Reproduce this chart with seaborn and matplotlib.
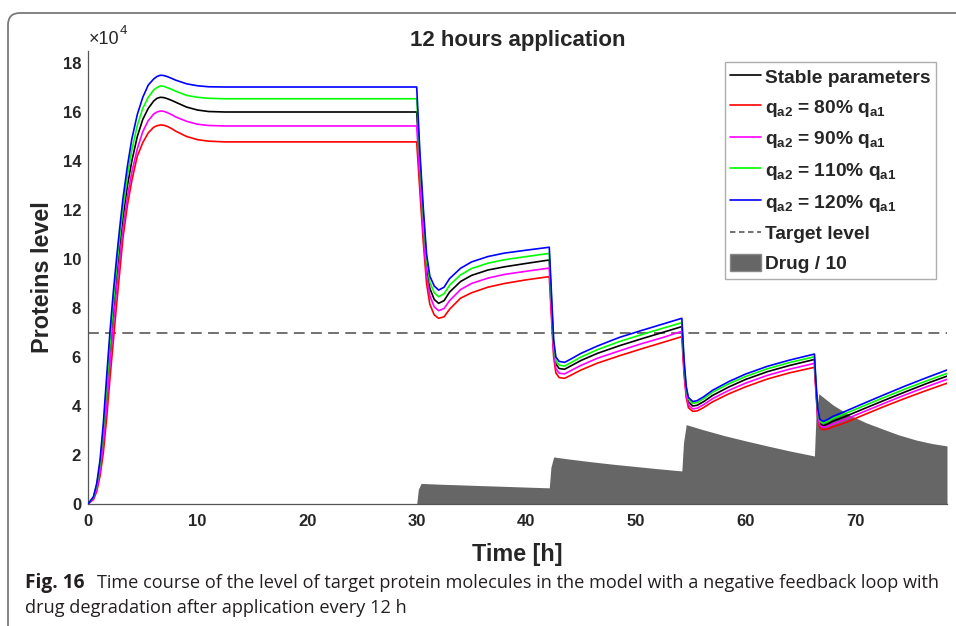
import matplotlib
matplotlib.use("Agg")
import matplotlib.pyplot as plt
import numpy as np
import pandas as pd
import seaborn as sns
from matplotlib.lines import Line2D
from matplotlib.patches import FancyBboxPatch, Patch
from matplotlib.transforms import IdentityTransform

# time grid [h] shared by the five protein curves
time_h = [0, 0.5, 0.8, 1.1, 1.4, 1.7, 2.0, 2.3, 2.6, 2.9, 3.2, 3.6, 4.0, 4.5, 5.0, 5.5, 6.0, 6.3, 6.6, 6.9,
          7.2, 7.6, 8.0, 9.0, 10.0, 11.0, 12.5, 14.0, 30.0,
          30.3, 30.6, 30.9, 31.2, 31.6, 32.0, 32.5, 33.0, 34.0, 35.0, 36.5, 38.0, 40.0, 42.1,
          42.3, 42.5, 42.7, 43.0, 43.5, 44.0, 45.0, 46.5, 48.5, 50.5, 52.5, 54.2,
          54.4, 54.6, 54.8, 55.2, 55.6, 56.2, 57.0, 58.5, 60.0, 62.0, 64.0, 66.3,
          66.45, 66.6, 66.8, 67.1, 67.5, 68.0, 69.0, 70.5, 72.5, 74.5, 76.5, 78.4]

# protein level in units of 1e4
stable = [0, 0.25, 0.7, 1.5, 2.8, 4.4, 6.1, 7.7, 9.2, 10.5, 11.7, 13.0, 14.0, 15.0, 15.7, 16.15, 16.45, 16.56, 16.6, 16.59,
          16.55, 16.48, 16.4, 16.2, 16.08, 16.02, 16.0, 16.0, 16.0,
          13.7, 11.5, 9.7, 8.8, 8.35, 8.19, 8.3, 8.65, 9.08, 9.33, 9.55, 9.68, 9.82, 9.96,
          8.1, 6.4, 5.72, 5.53, 5.5, 5.62, 5.86, 6.15, 6.46, 6.74, 7.01, 7.24,
          5.6, 4.6, 4.17, 4.0, 4.03, 4.18, 4.43, 4.78, 5.08, 5.4, 5.65, 5.9,
          4.7, 3.7, 3.27, 3.19, 3.26, 3.38, 3.55, 3.83, 4.2, 4.56, 4.91, 5.22]
q80 = [0, 0.18, 0.52, 1.15, 2.1, 3.5, 5.1, 6.6, 8.1, 9.5, 10.9, 12.2, 13.2, 14.2, 14.75, 15.15, 15.38, 15.44, 15.47, 15.46,
       15.42, 15.33, 15.22, 15.0, 14.87, 14.81, 14.78, 14.78, 14.78,
       12.7, 10.7, 9.0, 8.15, 7.72, 7.58, 7.64, 7.95, 8.4, 8.62, 8.85, 9.0, 9.15, 9.28,
       7.6, 6.0, 5.35, 5.16, 5.13, 5.24, 5.47, 5.75, 6.05, 6.33, 6.6, 6.83,
       5.3, 4.35, 3.93, 3.78, 3.8, 3.94, 4.17, 4.5, 4.78, 5.1, 5.35, 5.58,
       4.5, 3.5, 3.1, 3.03, 3.06, 3.15, 3.3, 3.58, 3.95, 4.3, 4.63, 4.93]
q90 = [0, 0.22, 0.62, 1.35, 2.55, 4.05, 5.7, 7.25, 8.75, 10.05, 11.25, 12.55, 13.55, 14.5, 15.2, 15.65, 15.92, 16.0, 16.04, 16.03,
       15.98, 15.9, 15.8, 15.62, 15.5, 15.45, 15.43, 15.43, 15.43,
       13.2, 11.1, 9.35, 8.5, 8.05, 7.89, 7.98, 8.3, 8.75, 9.0, 9.22, 9.37, 9.5, 9.63,
       7.85, 6.2, 5.53, 5.34, 5.31, 5.43, 5.66, 5.95, 6.25, 6.54, 6.8, 7.05,
       5.45, 4.47, 4.05, 3.88, 3.91, 4.06, 4.3, 4.64, 4.93, 5.25, 5.5, 5.74,
       4.6, 3.6, 3.2, 3.13, 3.17, 3.27, 3.43, 3.71, 4.08, 4.44, 4.78, 5.09]
q110 = [0, 0.28, 0.78, 1.65, 3.05, 4.75, 6.5, 8.15, 9.6, 10.9, 12.1, 13.4, 14.45, 15.45, 16.15, 16.6, 16.9, 17.0, 17.06, 17.05,
        17.0, 16.93, 16.85, 16.68, 16.6, 16.56, 16.54, 16.54, 16.54,
        14.0, 11.8, 9.95, 9.05, 8.63, 8.46, 8.58, 8.93, 9.35, 9.61, 9.83, 9.97, 10.1, 10.23,
        8.35, 6.55, 5.86, 5.67, 5.63, 5.75, 6.0, 6.3, 6.63, 6.91, 7.18, 7.40,
        5.75, 4.72, 4.28, 4.11, 4.14, 4.3, 4.56, 4.91, 5.2, 5.52, 5.77, 6.01,
        4.82, 3.82, 3.38, 3.3, 3.37, 3.49, 3.67, 3.95, 4.32, 4.68, 5.02, 5.33]
q120 = [0, 0.3, 0.85, 1.8, 3.3, 5.2, 7.0, 8.6, 10.0, 11.3, 12.5, 13.8, 14.9, 15.9, 16.6, 17.1, 17.35, 17.45, 17.5, 17.49,
        17.45, 17.38, 17.3, 17.15, 17.07, 17.03, 17.02, 17.02, 17.02,
        14.3, 12.1, 10.2, 9.3, 8.9, 8.73, 8.85, 9.2, 9.62, 9.88, 10.1, 10.24, 10.36, 10.48,
        8.6, 6.7, 6.0, 5.82, 5.78, 5.9, 6.15, 6.45, 6.8, 7.08, 7.35, 7.58,
        5.9, 4.8, 4.35, 4.18, 4.22, 4.38, 4.64, 5.0, 5.3, 5.62, 5.87, 6.12,
        4.9, 3.9, 3.45, 3.37, 3.45, 3.58, 3.76, 4.05, 4.43, 4.8, 5.15, 5.47]

# drug / 10 (same units)
drug_time_h = [0, 30.0, 30.15, 30.4, 32, 34, 36, 38, 40, 42.1,
               42.25, 42.5, 44, 46, 48, 50, 52, 54.2,
               54.35, 54.6, 56, 58, 60, 62, 64, 66.3,
               66.45, 66.7, 68, 69.5, 71, 72.6, 74, 75.6, 77, 78.4]
drug_level = [0, 0, 0.6, 0.84, 0.81, 0.78, 0.75, 0.72, 0.69, 0.66,
              1.5, 1.92, 1.83, 1.72, 1.62, 1.53, 1.44, 1.35,
              2.5, 3.24, 3.05, 2.8, 2.58, 2.37, 2.17, 1.96,
              3.7, 4.5, 4.04, 3.63, 3.32, 3.05, 2.82, 2.61, 2.47, 2.37]
target_level = 7

labels = ["Stable parameters",
          r"$q_{a2}$ = 80% $q_{a1}$",
          r"$q_{a2}$ = 90% $q_{a1}$",
          r"$q_{a2}$ = 110% $q_{a1}$",
          r"$q_{a2}$ = 120% $q_{a1}$"]
colors = ["#000000", "#ff0000", "#ff00ff", "#00ff00", "#0000ff"]

sns.set_style("white")
plt.rcParams["font.family"] = ["Liberation Sans", "DejaVu Sans"]
plt.rcParams["font.weight"] = "bold"
plt.rcParams["mathtext.fontset"] = "custom"
plt.rcParams["mathtext.rm"] = "Liberation Sans:bold"
plt.rcParams["mathtext.it"] = "Liberation Sans:bold"
plt.rcParams["mathtext.bf"] = "Liberation Sans:bold"

df = pd.DataFrame({"t": time_h, labels[0]: stable, labels[1]: q80, labels[2]: q90,
                   labels[3]: q110, labels[4]: q120})

fig = plt.figure(figsize=(9.56, 6.26), dpi=100)
ax = fig.add_axes([88 / 956, 122 / 626, 859 / 956, 453.25 / 626])

ax.fill_between(drug_time_h, 0, drug_level, color="#666666", lw=0, zorder=1)
ax.axhline(target_level, color="#666666", lw=1.3, ls=(0, (6, 3.5)), zorder=2)
for lab, col in zip(labels, colors):
    sns.lineplot(data=df, x="t", y=lab, color=col, lw=1.2, ax=ax, sort=False,
                 estimator=None, zorder=3)

ax.set_xlim(0, 78.4)
ax.set_ylim(0, 18.5)
ax.set_xticks(np.arange(0, 71, 10))
ax.set_yticks(np.arange(0, 19, 2))
for s in ["top", "right"]:
    ax.spines[s].set_visible(False)
for s in ["left", "bottom"]:
    ax.spines[s].set_color("#555555")
    ax.spines[s].set_linewidth(0.9)
ax.tick_params(direction="in", length=6.5, width=0.9, color="#555555", labelsize=12, pad=5)
ax.tick_params(axis="x", pad=7)
for lbl in ax.get_xticklabels() + ax.get_yticklabels():
    lbl.set_fontweight("bold")

ax.set_xlabel("Time [h]", fontsize=16.8, fontweight="bold", labelpad=10)
ax.set_ylabel("Proteins level", fontsize=16.8, fontweight="bold", labelpad=6)
ax.set_title("12 hours application", fontsize=16, fontweight="bold", pad=3.5)
ax.text(0.001, 1.006, "\u00d710", transform=ax.transAxes, fontsize=13,
        fontweight="normal", ha="left", va="bottom")
ax.text(0.0365, 1.03, "4", transform=ax.transAxes, fontsize=9.5,
        fontweight="normal", ha="left", va="bottom")

handles = [Line2D([], [], color=c, lw=1.2) for c in colors]
handles.append(Line2D([], [], color="#666666", lw=1.3, ls=(0, (3, 2))))
handles.append(Patch(facecolor="#666666", edgecolor="#888888"))
leg = ax.legend(handles, labels + ["Target level", "Drug / 10"], loc="upper right",
                bbox_to_anchor=(936 / 956, 1 - 62 / 626), bbox_transform=fig.transFigure,
                borderaxespad=0, fontsize=13.8, frameon=True, fancybox=False,
                handlelength=1.6, handleheight=1.0, handletextpad=0.2, labelspacing=0.55,
                borderpad=0.3, edgecolor="#999999")
leg.get_frame().set_linewidth(1.0)
for txt in leg.get_texts():
    txt.set_fontweight("bold")

# outer figure frame with rounded corner
frame = FancyBboxPatch((8, -30), 1000, 626 - 13 + 30, boxstyle="round,pad=0,rounding_size=12",
                       transform=IdentityTransform(), fill=False, ec="#7a7a7a", lw=1.3)
fig.add_artist(frame)

cap_font = ["Open Sans", "DejaVu Sans"]
cap1 = fig.text(25 / 956, 1 - 583 / 626, "Fig. 16", fontsize=14, fontweight="bold",
                family=cap_font, va="center", ha="left", color="#231f20")
cap2 = fig.text(97 / 956, 1 - 583 / 626,
                "Time course of the level of target protein molecules in the model with a negative feedback loop with",
                fontsize=14, fontweight="normal", family=cap_font, va="center", ha="left", color="#231f20")
cap3 = fig.text(25 / 956, 1 - 608 / 626, "drug degradation after application every 12 h", fontsize=14,
                fontweight="normal", family=cap_font, va="center", ha="left", color="#231f20")

# shrink the caption so the first line fits the width of the reference
renderer = fig.canvas.get_renderer()
w = cap2.get_window_extent(renderer).width
size = 14 * 849 / w
for c in (cap2, cap3):
    c.set_fontsize(size)
cap1.set_fontsize(size * 1.05)

fig.savefig("out.png", dpi=100)
